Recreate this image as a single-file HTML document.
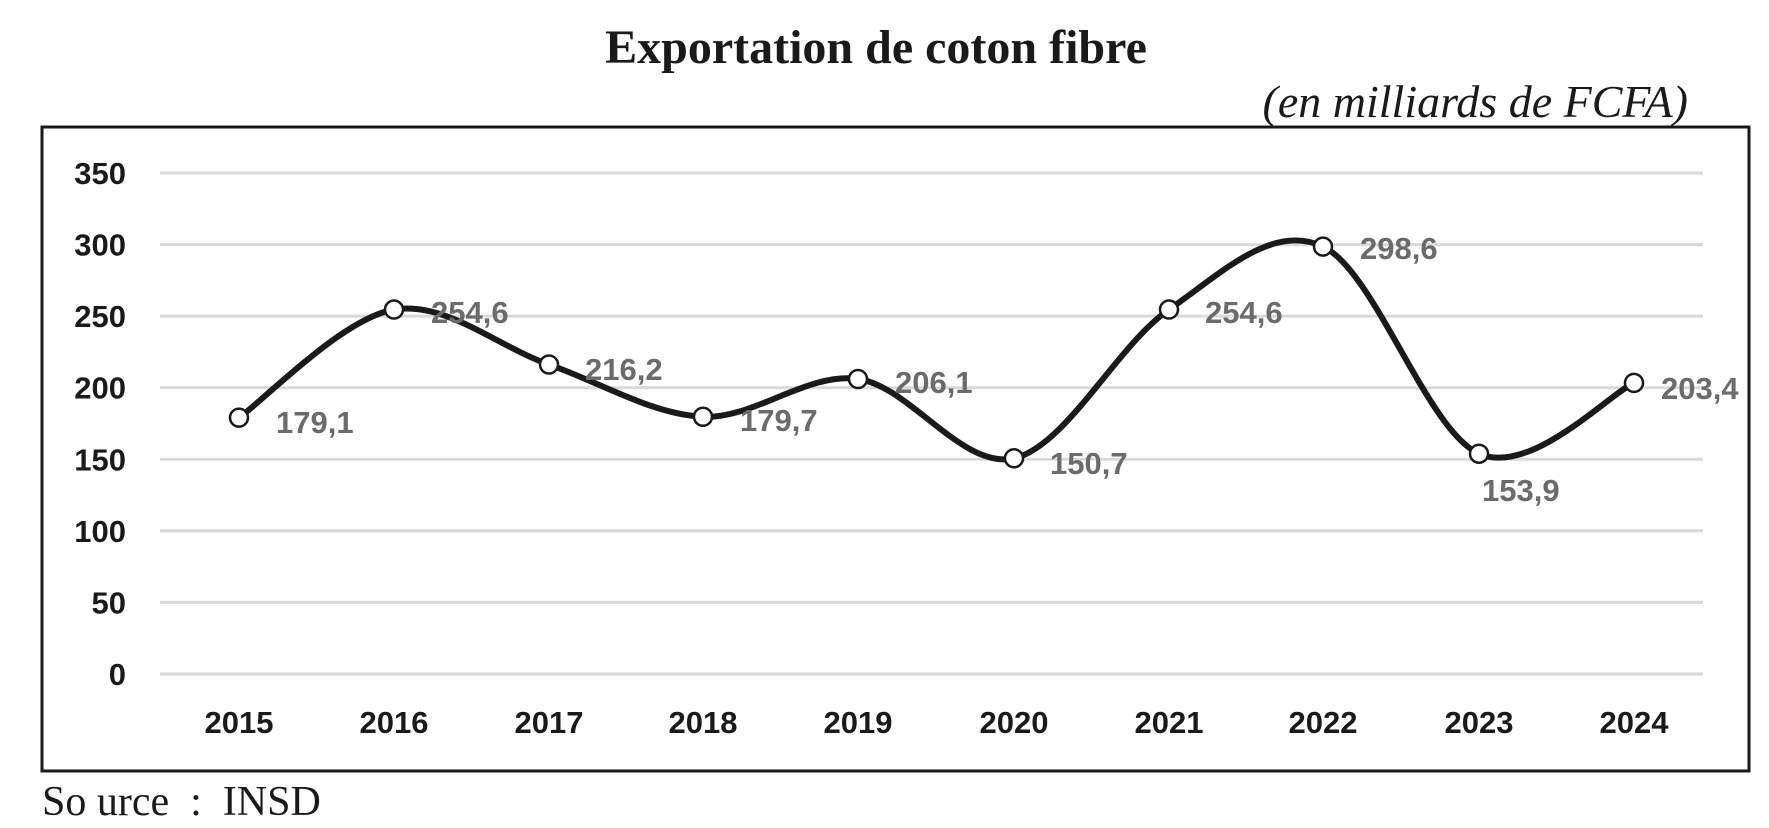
<!DOCTYPE html>
<html><head><meta charset="utf-8"><style>
html,body{margin:0;padding:0;background:#fff;}
svg{display:block;}
</style></head><body>
<svg id="s" width="1769" height="828" xmlns="http://www.w3.org/2000/svg">
<text x="876" y="63" text-anchor="middle" font-family="Liberation Serif, serif" font-weight="bold" font-size="48" fill="#1a1a1a">Exportation de coton fibre</text>
<text x="1688" y="117" text-anchor="end" font-family="Liberation Serif, serif" font-style="italic" font-size="46" fill="#1a1a1a">(en milliards de FCFA)</text>
<rect x="42" y="127" width="1707" height="644" fill="none" stroke="#1a1a1a" stroke-width="3"/>
<g id="grid" stroke="#d9d9d9" stroke-width="3"></g>
<g id="ylab" font-family="Liberation Sans, sans-serif" font-weight="bold" font-size="31" fill="#1a1a1a" text-anchor="end"></g>
<g id="xlab" font-family="Liberation Sans, sans-serif" font-weight="bold" font-size="31" fill="#1a1a1a" text-anchor="middle"></g>
<path id="line" fill="none" stroke="#1a1a1a" stroke-width="6" stroke-linejoin="round"/>
<g id="marks" fill="#fff" stroke="#1a1a1a" stroke-width="2.5"></g>
<g id="dlab" font-family="Liberation Sans, sans-serif" font-weight="bold" font-size="31" fill="#6b6b6b"></g>
<text x="42" y="815" font-family="Liberation Serif, serif" font-size="42" fill="#1a1a1a">So urce&#160;&#160;:&#160;&#160;INSD</text>
</svg>
<script>
var NS="http://www.w3.org/2000/svg";
function el(p,t,a,txt){var e=document.createElementNS(NS,t);for(var k in a)e.setAttribute(k,a[k]);if(txt)e.textContent=txt;document.getElementById(p).appendChild(e);}
function Y(v){return 674-v*501/350;}
for(var v=0;v<=350;v+=50){var y=Y(v);el("grid","line",{x1:160,x2:1703,y1:y,y2:y});el("ylab","text",{x:126,y:y+11},String(v));}
var xs=[239,394,549,703,858,1014,1169,1323,1479,1634];
var vals=[179.1,254.6,216.2,179.7,206.1,150.7,254.6,298.6,153.9,203.4];
var labs=["179,1","254,6","216,2","179,7","206,1","150,7","254,6","298,6","153,9","203,4"];
var lp=[[276,422],[431,312],[585,369],[740,420],[895,382],[1050,463],[1205,312],[1360,248],[1482,490],[1661,388]];
var pts=xs.map(function(x,i){return [x,Y(vals[i])];});
for(var i=0;i<10;i++)el("xlab","text",{x:xs[i],y:733},String(2015+i));
var d="M"+pts[0][0]+","+pts[0][1];
for(var i=0;i<pts.length-1;i++){
 var p0=pts[Math.max(0,i-1)],p1=pts[i],p2=pts[i+1],p3=pts[Math.min(pts.length-1,i+2)];
 var c1=[p1[0]+(p2[0]-p0[0])/6,p1[1]+(p2[1]-p0[1])/6];
 var c2=[p2[0]-(p3[0]-p1[0])/6,p2[1]-(p3[1]-p1[1])/6];
 d+=" C"+c1[0]+","+c1[1]+" "+c2[0]+","+c2[1]+" "+p2[0]+","+p2[1];
}
document.getElementById("line").setAttribute("d",d);
pts.forEach(function(p){el("marks","circle",{cx:p[0],cy:p[1],r:9});});
lp.forEach(function(p,i){el("dlab","text",{x:p[0],y:p[1]+11},labs[i]);});
</script>
</body></html>
